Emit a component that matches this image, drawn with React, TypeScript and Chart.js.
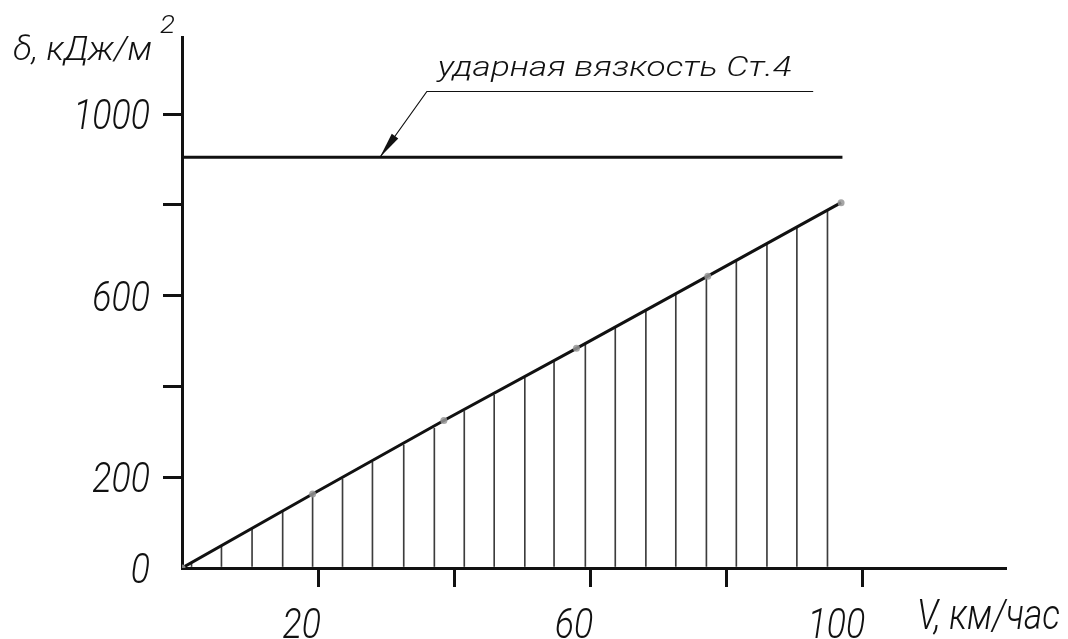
import React, { useEffect, useRef } from "react";
import { Chart, registerables } from "chart.js";

Chart.register(...registerables);

const FONT = 'Roboto, Lato, "Open Sans", sans-serif';
const WEIGHT = 300;
const INK = "#111111";

// Axes
const X_MAX = 121;
const Y_MAX = 1170;
const X_TICKS = [20, 40, 60, 80, 100];
const Y_TICKS = [0, 200, 400, 600, 800, 1000];
const X_LABELED = [20, 60, 100];
const Y_LABELED = [0, 200, 600, 1000];

// Main series: impact energy vs speed
const speedKmh = [0, 19.2, 38.5, 58.0, 77.3, 96.9];
const energyKJ = [0, 163, 325, 484, 643, 805];

// Reference level: impact toughness of St.4
const toughnessX = [0, 97.1];
const toughnessY = [905, 905];

// Hatch lines under the main line
const hatchX = [1.4, 5.8, 10.3, 14.8, 19.2, 23.6, 28.0, 32.6, 37.1, 41.5, 45.9, 50.4, 54.7, 59.3, 63.7, 68.2, 72.6, 77.1, 81.5, 86.0, 90.4, 94.9];
const hatchY = [12, 48, 86, 123, 160, 196, 233, 271, 308, 345, 381, 419, 455, 493, 529, 567, 603, 641, 677, 715, 751, 789];

// Leader annotation (data units)
const leaderTip = { x: 29.1, y: 905 };
const leaderKnee = { x: 36.0, y: 1051 };
const leaderEndX = 92.8;
const annotText = "ударная вязкость Ст.4";
const annotPos = { x: 37.6, y: 1084 };

const yTitle = "δ, кДж/м";
const yTitleSup = "2";
const xTitle = "V, км/час";

function drawText(ctx: CanvasRenderingContext2D, text: string, x: number, baseline: number, size: number, sx: number, align: "left" | "right") {
  ctx.save();
  ctx.font = `italic ${WEIGHT} ${size}px ${FONT}`;
  ctx.translate(x, baseline);
  ctx.scale(sx, 1);
  ctx.textBaseline = "alphabetic";
  ctx.textAlign = align;
  ctx.fillStyle = INK;
  ctx.fillText(text, 0, 0);
  ctx.restore();
}

function drawFitted(ctx: CanvasRenderingContext2D, text: string, x: number, baseline: number, width: number, size: number) {
  ctx.save();
  ctx.font = `italic ${WEIGHT} ${size}px ${FONT}`;
  const w = ctx.measureText(text).width;
  ctx.restore();
  drawText(ctx, text, x, baseline, size, width / w, "left");
}

const annotPlugin = {
  id: "annot",
  afterDraw(chart: any) {
    const ctx: CanvasRenderingContext2D = chart.ctx;
    const xs = chart.scales.x;
    const ys = chart.scales.y;

    // tick labels from the scales
    const TICK_SIZE = 42;
    const TICK_SX = 0.85;
    for (const v of Y_LABELED) {
      const py = ys.getPixelForValue(v);
      drawText(ctx, String(v), ys.right - 19 - 13, py + 15, TICK_SIZE, TICK_SX, "right");
    }
    for (const v of X_LABELED) {
      const px = xs.getPixelForValue(v);
      drawText(ctx, String(v), px + 3, xs.top + 70, TICK_SIZE, TICK_SX, "right");
    }

    // leader
    const tx = xs.getPixelForValue(leaderTip.x);
    const ty = ys.getPixelForValue(leaderTip.y);
    const kx = xs.getPixelForValue(leaderKnee.x);
    const ky = Math.round(ys.getPixelForValue(leaderKnee.y)) + 0.5;
    const ex = xs.getPixelForValue(leaderEndX);
    ctx.save();
    ctx.strokeStyle = INK;
    ctx.lineWidth = 1.2;
    ctx.beginPath();
    ctx.moveTo(ex, ky);
    ctx.lineTo(kx, ky);
    ctx.lineTo(tx, ty);
    ctx.stroke();
    const ang = Math.atan2(ty - ky, tx - kx);
    const len = 26;
    const half = 4;
    const bx = tx - len * Math.cos(ang);
    const by = ty - len * Math.sin(ang);
    ctx.fillStyle = INK;
    ctx.beginPath();
    ctx.moveTo(tx, ty);
    ctx.lineTo(bx + half * Math.sin(ang), by - half * Math.cos(ang));
    ctx.lineTo(bx - half * Math.sin(ang), by + half * Math.cos(ang));
    ctx.closePath();
    ctx.fill();
    ctx.restore();

    const ax = xs.getPixelForValue(annotPos.x);
    const ay = ys.getPixelForValue(annotPos.y);
    drawFitted(ctx, annotText, ax, ay, 354, 27);

    drawFitted(ctx, yTitle, 13, 60, 139, 34);
    drawFitted(ctx, yTitleSup, 160, 33, 15, 25);
    drawFitted(ctx, xTitle, 917, 629, 143, 42);
  },
};

export default function App() {
  const ref = useRef<HTMLCanvasElement | null>(null);
  useEffect(() => {
    if (!ref.current) return;
    const chart = new Chart(ref.current, {
      type: "scatter",
      data: {
        datasets: [
          {
            type: "line",
            label: "energy",
            data: speedKmh.map((x, i) => ({ x, y: energyKJ[i] })),
            borderColor: INK,
            borderWidth: 3,
            pointRadius: 3.5,
            pointBackgroundColor: "rgba(150,150,150,0.85)",
            pointBorderWidth: 0,
            fill: false,
            tension: 0,
            order: 0,
          },
          {
            type: "line",
            label: "toughness",
            data: toughnessX.map((x, i) => ({ x, y: toughnessY[i] })),
            borderColor: INK,
            borderWidth: 3,
            pointRadius: 0,
            fill: false,
            order: 1,
          },
          {
            type: "bar",
            label: "hatch",
            data: hatchX.map((x, i) => ({ x, y: hatchY[i] })),
            backgroundColor: "#3c3c3c",
            borderWidth: 0,
            barThickness: 1,
            order: 2,
          } as any,
        ],
      },
      options: {
        animation: false,
        responsive: true,
        maintainAspectRatio: false,
        layout: { padding: { top: 37, right: 63, left: 0, bottom: 0 } },
        plugins: { legend: { display: false }, tooltip: { enabled: false }, title: { display: false } },
        scales: {
          x: {
            type: "linear",
            min: 0,
            max: X_MAX,
            offset: false,
            afterFit: (s: any) => { s.height = 71; },
            afterBuildTicks: (s: any) => { s.ticks = X_TICKS.map((value) => ({ value })); },
            border: { display: true, color: INK, width: 3 },
            grid: {
              offset: false,
              drawOnChartArea: false,
              drawTicks: true,
              tickLength: 19,
              lineWidth: 3,
              color: INK,
            },
            ticks: { display: false },
          },
          y: {
            type: "linear",
            min: 0,
            max: Y_MAX,
            afterFit: (s: any) => { s.width = 182; },
            afterBuildTicks: (s: any) => { s.ticks = Y_TICKS.map((value) => ({ value })); },
            border: { display: true, color: INK, width: 3 },
            grid: {
              drawOnChartArea: false,
              drawTicks: true,
              tickLength: 19,
              lineWidth: 3,
              color: (c: any) => (c.tick && c.tick.value === 0 ? "rgba(0,0,0,0)" : INK),
            },
            ticks: { display: false },
          },
        },
      },
      plugins: [annotPlugin],
    });
    return () => chart.destroy();
  }, []);
  return (
    <div style={{ position: "fixed", left: 0, top: 0, width: 1068, height: 639, background: "#fff" }}>
      <canvas ref={ref} />
    </div>
  );
}
